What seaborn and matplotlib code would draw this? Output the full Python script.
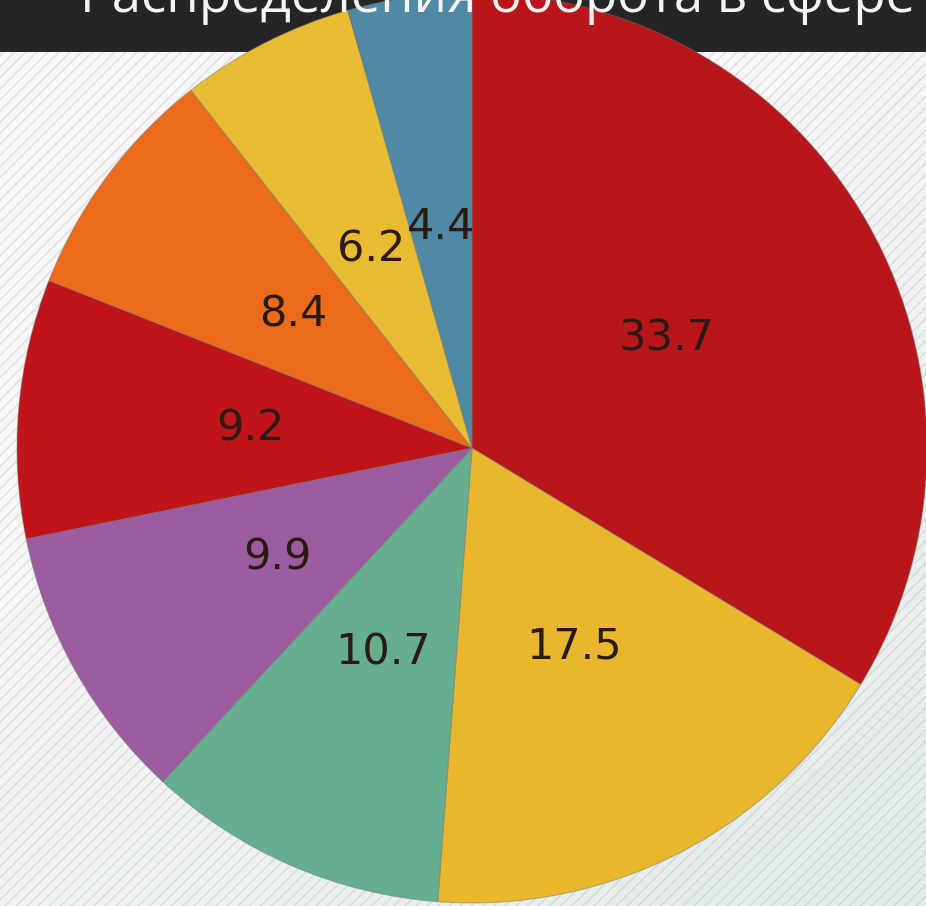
import numpy as np
import matplotlib
matplotlib.use("Agg")
import matplotlib.pyplot as plt
import seaborn as sns
from matplotlib.patches import Rectangle

# Data
values = [33.7, 17.5, 10.7, 9.9, 9.2, 8.4, 6.2, 4.4]
slice_colors = ["#B8161A", "#E8B72C", "#66AE90", "#9C5C9F", "#BF151A", "#EC6B1B", "#E9BB30", "#4F89A3"]
title_text = "Распределения оборота в сфере"

sns.set_theme(style="white")
plt.rcParams["font.family"] = ["DejaVu Sans"]
plt.rcParams["hatch.linewidth"] = 1.2
palette = sns.color_palette(slice_colors)

W, H = 926, 906
fig = plt.figure(figsize=(W / 100, H / 100), dpi=100)

# Background with gradient + diagonal stripes
bg = fig.add_axes([0, 0, 1, 1], zorder=0)
xx, yy = np.meshgrid(np.linspace(0, 1, 200), np.linspace(0, 1, 200))
t = np.clip((xx * 0.6 + yy * 0.9) - 0.6, 0, 1)
c0 = np.array([0.965, 0.965, 0.965])
c1 = np.array([0.88, 0.92, 0.905])
img = c0[None, None, :] * (1 - t[..., None]) + c1[None, None, :] * t[..., None]
bg.imshow(img, extent=[0, 1, 0, 1], origin="upper", aspect="auto")
bg.add_patch(Rectangle((0, 0), 1, 1, facecolor="none", edgecolor=(0.6, 0.6, 0.6, 0.22),
                       hatch="///", linewidth=0))
# Header bar
bg.add_patch(Rectangle((0, 1 - 52 / H), 1, 52 / H, facecolor="#252525",
                       edgecolor="none", zorder=3))
bg.set_xlim(0, 1)
bg.set_ylim(0, 1)
bg.axis("off")

# Pie
cx, cy, R = 472, 448, 455
ax = fig.add_axes([(cx - R) / W, (H - cy - R) / H, 2 * R / W, 2 * R / H], zorder=2)
ax.set_facecolor("none")
wedges, texts, autotexts = ax.pie(
    values,
    colors=palette,
    startangle=90,
    counterclock=False,
    radius=1,
    autopct=lambda p: f"{p:.1f}",
    pctdistance=0.49,
    wedgeprops=dict(edgecolor=(0.45, 0.45, 0.45, 0.45), linewidth=0.8),
    textprops=dict(fontsize=31, color="#2a1a14"),
)
ax.set_xlim(-1, 1)
ax.set_ylim(-1, 1)
ax.set_aspect("equal")
ax.axis("off")

# Title (clipped at the top, as in the reference)
fig.text(80 / W, 1 - 12 / H, title_text, color="#f4f4f4", fontsize=38,
         family=["Open Sans", "DejaVu Sans"], ha="left", va="baseline", zorder=5)

fig.savefig("out.png", dpi=100)
